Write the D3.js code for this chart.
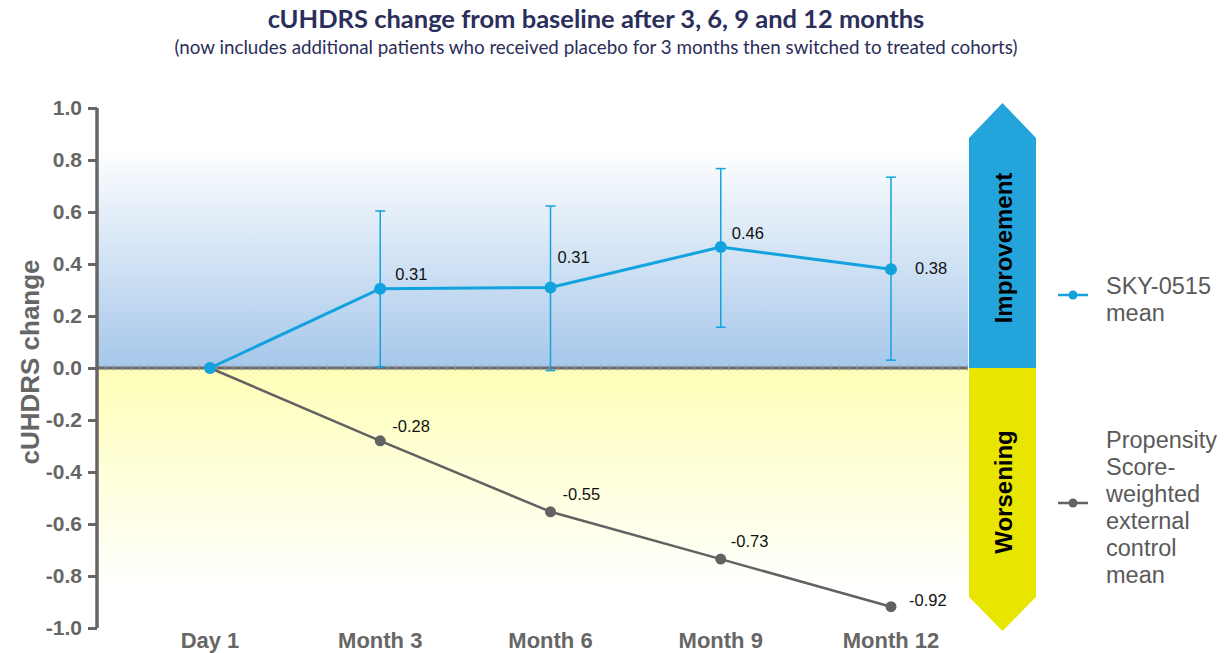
<!DOCTYPE html>
<html>
<head>
<meta charset="utf-8">
<script src="https://cdn.jsdelivr.net/npm/d3@7"></script>
<style>
  body { margin: 0; background: #fff; }
  text { font-family: "Liberation Sans", Arial, sans-serif; }
  .title { font-family: Lato, sans-serif; fill: #2b2e5a; }
</style>
</head>
<body>
<script>
// data
var categories = ["Day 1", "Month 3", "Month 6", "Month 9", "Month 12"];
var skyMean = [0, 0.305, 0.31, 0.465, 0.38];
var skyLow = [null, 0.005, -0.01, 0.157, 0.03];
var skyHigh = [null, 0.604, 0.623, 0.767, 0.734];
var skyLabels = [null, "0.31", "0.31", "0.46", "0.38"];
var ctrlMean = [0, -0.28, -0.553, -0.735, -0.918];
var ctrlLabels = [null, "-0.28", "-0.55", "-0.73", "-0.92"];
var yTicks = [1.0, 0.8, 0.6, 0.4, 0.2, 0.0, -0.2, -0.4, -0.6, -0.8, -1.0];

// label placement (offset from point)
var skyOff = [null, [15, -9], [7, -24], [11, -8], [24, 5]];
var ctrlOff = [null, [12, -9], [12, -12], [10, -12], [18, -1]];

var width = 1229, height = 653;
var plot = {left: 97, right: 968, top: 108, bottom: 628};

var svg = d3.select("body").append("svg")
    .attr("width", width)
    .attr("height", height);

var x = d3.scalePoint().domain(categories).range([210, 891]);
var y = d3.scaleLinear().domain([-1, 1]).range([plot.bottom, plot.top]);

// background gradients
var defs = svg.append("defs");
var gb = defs.append("linearGradient").attr("id", "gBlue")
    .attr("gradientUnits", "userSpaceOnUse")
    .attr("x1", 0).attr("x2", 0).attr("y1", y(0)).attr("y2", y(0.85));
gb.append("stop").attr("offset", 0).attr("stop-color", "#a6c7ea");
gb.append("stop").attr("offset", 1).attr("stop-color", "#ffffff");
var gy = defs.append("linearGradient").attr("id", "gYellow")
    .attr("gradientUnits", "userSpaceOnUse")
    .attr("x1", 0).attr("x2", 0).attr("y1", y(0)).attr("y2", y(-0.85));
gy.append("stop").attr("offset", 0).attr("stop-color", "#ffffb8");
gy.append("stop").attr("offset", 1).attr("stop-color", "#ffffff");

svg.append("rect")
    .attr("x", plot.left).attr("width", plot.right - plot.left)
    .attr("y", y(0.85)).attr("height", y(0) - y(0.85))
    .attr("fill", "url(#gBlue)");
svg.append("rect")
    .attr("x", plot.left).attr("width", plot.right - plot.left)
    .attr("y", y(0)).attr("height", y(-0.85) - y(0))
    .attr("fill", "url(#gYellow)");

// titles
svg.append("text").attr("class", "title")
    .attr("x", 596).attr("y", 28)
    .attr("text-anchor", "middle")
    .style("font-size", "25.5px").style("font-weight", "bold")
    .text("cUHDRS change from baseline after 3, 6, 9 and 12 months");
svg.append("text").attr("class", "title")
    .attr("x", 596).attr("y", 54)
    .attr("text-anchor", "middle")
    .style("font-size", "18.8px")
    .text("(now includes additional patients who received placebo for 3 months then switched to treated cohorts)");

// zero line with minor ticks
var zx = d3.scaleLinear().domain([0, 1]).range([plot.left, plot.right]);
svg.append("line")
    .attr("x1", plot.left).attr("x2", plot.right)
    .attr("y1", y(0)).attr("y2", y(0))
    .attr("stroke", "#6b6b6b").attr("stroke-width", 3);
svg.append("g").selectAll("line")
    .data(d3.range(0, 1.0001, 0.0098))
    .enter().append("line")
    .attr("x1", function(d){ return zx(d); })
    .attr("x2", function(d){ return zx(d); })
    .attr("y1", y(0) - 2.5).attr("y2", y(0) + 2.5)
    .attr("stroke", "#999").attr("stroke-width", 1);

// y axis
var yAxis = svg.append("g")
    .attr("transform", "translate(" + plot.left + ",0)")
    .call(d3.axisLeft(y).tickValues(yTicks).tickSize(9).tickPadding(6)
        .tickFormat(d3.format(".1f")));
yAxis.select(".domain").attr("stroke", "#666").attr("stroke-width", 3.5)
    .attr("d", "M0," + y(1) + "V" + y(-1));
yAxis.selectAll(".tick line").attr("stroke", "#666").attr("stroke-width", 3);
yAxis.selectAll(".tick text")
    .attr("fill", "#666")
    .style("font-size", "21px").style("font-weight", "bold")
    .style("font-family", "'Liberation Sans', Arial, sans-serif")
    .text(function(d){ return d3.format(".1f")(d).replace("−", "-"); });

svg.append("text")
    .attr("transform", "translate(39," + (y(0) - 6) + ") rotate(-90)")
    .attr("text-anchor", "middle")
    .attr("fill", "#666")
    .style("font-size", "26px").style("font-weight", "bold")
    .text("cUHDRS change");

// x labels
svg.append("g").selectAll("text")
    .data(categories)
    .enter().append("text")
    .attr("x", function(d){ return x(d); })
    .attr("y", 648)
    .attr("text-anchor", "middle")
    .attr("fill", "#666")
    .style("font-size", "22px").style("font-weight", "bold")
    .text(function(d){ return d; });

// control series
var ctrlColor = "#626262";
var ctrlLine = d3.line()
    .x(function(d, i){ return x(categories[i]); })
    .y(function(d){ return y(d); });
svg.append("path")
    .datum(ctrlMean)
    .attr("d", ctrlLine)
    .attr("fill", "none")
    .attr("stroke", ctrlColor).attr("stroke-width", 2.5);
svg.append("g").selectAll("circle")
    .data(ctrlMean)
    .enter().append("circle")
    .attr("cx", function(d, i){ return x(categories[i]); })
    .attr("cy", function(d){ return y(d); })
    .attr("r", 5.5)
    .attr("fill", ctrlColor);
svg.append("g").selectAll("text")
    .data(d3.range(categories.length).filter(function(i){ return ctrlLabels[i] !== null; }))
    .enter().append("text")
    .attr("x", function(i){ return x(categories[i]) + ctrlOff[i][0]; })
    .attr("y", function(i){ return y(ctrlMean[i]) + ctrlOff[i][1]; })
    .attr("fill", "#111")
    .style("font-size", "16.5px")
    .text(function(i){ return ctrlLabels[i]; });

// SKY-0515 series
var skyColor = "#12a3df";
var skyIdx = d3.range(categories.length);
var errIdx = skyIdx.filter(function(i){ return skyLow[i] !== null; });
var eb = svg.append("g").attr("stroke", skyColor).attr("stroke-width", 1.5);
eb.selectAll(".v").data(errIdx).enter().append("line")
    .attr("x1", function(i){ return x(categories[i]); })
    .attr("x2", function(i){ return x(categories[i]); })
    .attr("y1", function(i){ return y(skyHigh[i]); })
    .attr("y2", function(i){ return y(skyLow[i]); });
eb.selectAll(".t").data(errIdx).enter().append("line")
    .attr("x1", function(i){ return x(categories[i]) - 5; })
    .attr("x2", function(i){ return x(categories[i]) + 5; })
    .attr("y1", function(i){ return y(skyHigh[i]); })
    .attr("y2", function(i){ return y(skyHigh[i]); });
eb.selectAll(".b").data(errIdx).enter().append("line")
    .attr("x1", function(i){ return x(categories[i]) - 5; })
    .attr("x2", function(i){ return x(categories[i]) + 5; })
    .attr("y1", function(i){ return y(skyLow[i]); })
    .attr("y2", function(i){ return y(skyLow[i]); });

svg.append("path")
    .datum(skyMean)
    .attr("d", ctrlLine)
    .attr("fill", "none")
    .attr("stroke", skyColor).attr("stroke-width", 3);
svg.append("g").selectAll("circle")
    .data(skyIdx)
    .enter().append("circle")
    .attr("cx", function(i){ return x(categories[i]); })
    .attr("cy", function(i){ return y(skyMean[i]); })
    .attr("r", 6)
    .attr("fill", skyColor);
svg.append("g").selectAll("text")
    .data(skyIdx.filter(function(i){ return skyLabels[i] !== null; }))
    .enter().append("text")
    .attr("x", function(i){ return x(categories[i]) + skyOff[i][0]; })
    .attr("y", function(i){ return y(skyMean[i]) + skyOff[i][1]; })
    .attr("fill", "#111")
    .style("font-size", "16.5px")
    .text(function(i){ return skyLabels[i]; });

// improvement / worsening arrow
var ax0 = 969, ax1 = 1036, axm = (ax0 + ax1) / 2;
svg.append("path")
    .attr("d", "M" + ax0 + "," + y(0) + "V138L" + axm + ",103L" + ax1 + ",138V" + y(0) + "Z")
    .attr("fill", "#23a5dc");
svg.append("path")
    .attr("d", "M" + ax0 + "," + y(0) + "V597L" + axm + ",631L" + ax1 + ",597V" + y(0) + "Z")
    .attr("fill", "#e8e500");
svg.append("text")
    .attr("transform", "translate(" + (axm + 9) + ",248) rotate(-90)")
    .attr("text-anchor", "middle")
    .attr("fill", "#000")
    .style("font-size", "24px").style("font-weight", "bold")
    .text("Improvement");
svg.append("text")
    .attr("transform", "translate(" + (axm + 9) + ",492) rotate(-90)")
    .attr("text-anchor", "middle")
    .attr("fill", "#000")
    .style("font-size", "24px").style("font-weight", "bold")
    .text("Worsening");

// legend
var legend = [
    {color: skyColor, y: 295, lines: ["SKY-0515", "mean"], ty: 294},
    {color: ctrlColor, y: 503, lines: ["Propensity", "Score-", "weighted", "external", "control", "mean"], ty: 448}
];
legend.forEach(function(l){
    svg.append("line")
        .attr("x1", 1058).attr("x2", 1088)
        .attr("y1", l.y).attr("y2", l.y)
        .attr("stroke", l.color).attr("stroke-width", 2.5);
    svg.append("circle")
        .attr("cx", 1073).attr("cy", l.y).attr("r", 4.5)
        .attr("fill", l.color);
    svg.append("g").selectAll("text")
        .data(l.lines)
        .enter().append("text")
        .attr("x", 1106)
        .attr("y", function(d, i){ return l.ty + i * 27; })
        .attr("fill", "#5a5a5a")
        .style("font-size", "23.5px")
        .text(function(d){ return d; });
});
</script>
</body>
</html>
